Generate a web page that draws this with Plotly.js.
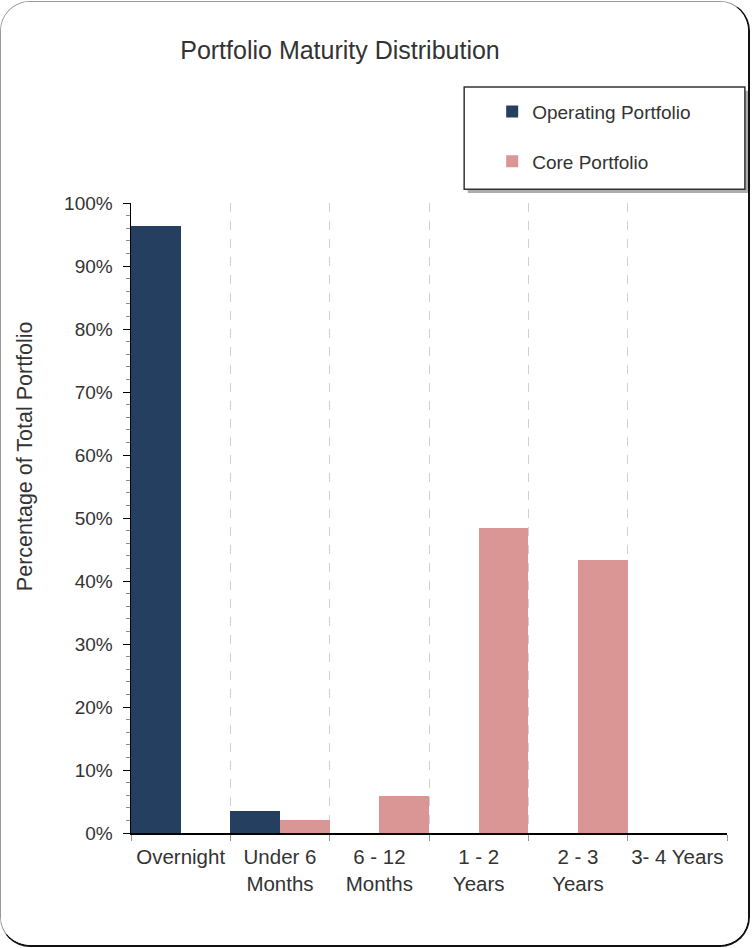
<!DOCTYPE html>
<html>
<head>
<meta charset="utf-8">
<script src="https://cdn.plot.ly/plotly-3.0.1.min.js"></script>
<style>
  html, body { margin: 0; padding: 0; background: #fff; }
  #wrap { position: absolute; left: 0; top: 1px; width: 750px; height: 946px; box-sizing: border-box;
          border: 1px solid #999; border-right: 2px solid #111; border-bottom: 2px solid #111; border-radius: 30px; overflow: hidden; background:#fff; }
  #chart { width: 747px; height: 943px; }
</style>
</head>
<body>
<div id="wrap"><div id="chart"></div></div>
<script>
const categories = ["Overnight", "Under 6<br>Months", "6 - 12<br>Months", "1 - 2<br>Years", "2 - 3<br>Years", "3- 4 Years"];
const operatingPortfolio = [96.3, 3.5, 0, 0, 0, 0];
const corePortfolio = [0, 2.1, 5.9, 48.4, 43.3, 0];

const font = "Liberation Sans, Arial, Helvetica, sans-serif";
const txt = "#333333";

const traces = [
  { type: "bar", name: "Operating Portfolio", x: categories, y: operatingPortfolio,
    marker: { color: "#243F60" }, legendgroup: "a", hoverinfo: "none" },
  { type: "bar", name: "Core Portfolio", x: categories, y: corePortfolio,
    marker: { color: "#D99694" }, legendgroup: "b", hoverinfo: "none" }
];

const layout = {
  width: 747, height: 943,
  margin: { l: 130, r: 21, t: 201, b: 112 },
  paper_bgcolor: "#fff", plot_bgcolor: "#fff",
  font: { family: font, color: txt, size: 19 },
  title: { text: "Portfolio Maturity Distribution", font: { size: 25, color: txt, family: font },
           x: 339 / 747, xanchor: "center", y: 1 - 48 / 943, yanchor: "middle" },
  barmode: "group", bargap: 0, bargroupgap: 0,
  showlegend: true,
  legend: { x: 0.606, xanchor: "left", y: 1.175, yanchor: "top", bgcolor: "rgba(0,0,0,0)",
            borderwidth: 0, font: { size: 19, color: txt, family: font },
            traceorder: "grouped", tracegroupgap: 22 },
  xaxis: { type: "category", tickson: "boundaries", showgrid: true, griddash: "dash",
           gridcolor: "#d0d0d0", gridwidth: 1, showline: true, linecolor: "#000", linewidth: 1.5,
           ticks: "outside", ticklen: 6, tickcolor: "#999", tickfont: { size: 20.5, color: txt },
           tickangle: 0, ticklabelstandoff: 5,
           range: [-0.5, 5.5], fixedrange: true, zeroline: false },
  yaxis: { range: [0, 100], dtick: 10, ticksuffix: "%", showgrid: false, zeroline: false,
           showline: true, linecolor: "#000", linewidth: 1.5, ticks: "outside", ticklen: 7,
           tickcolor: "#000", tickfont: { size: 19, color: txt }, ticklabelstandoff: 6,
           minor: { dtick: 2, ticks: "outside", ticklen: 4, tickcolor: "#888", showgrid: false } },
  shapes: [
    { type: "rect", xref: "paper", yref: "paper", x0: 0.565, x1: 1.036, y0: 1.016, y1: 1.178,
      fillcolor: "#777", line: { width: 0 }, layer: "above", opacity: 0.6 },
    { type: "rect", xref: "paper", yref: "paper", x0: 0.559, x1: 1.030, y0: 1.022, y1: 1.184,
      fillcolor: "#fff", line: { color: "#333", width: 1.5 }, layer: "above" }
  ],
  annotations: [
    { text: "Percentage of Total Portfolio", xref: "paper", yref: "paper", x: -0.178, y: 0.598,
      textangle: -90, showarrow: false, xanchor: "center", yanchor: "middle",
      font: { size: 21.5, color: txt, family: font } }
  ]
};

Plotly.newPlot("chart", traces, layout, { displayModeBar: false, staticPlot: true });
</script>
</body>
</html>
